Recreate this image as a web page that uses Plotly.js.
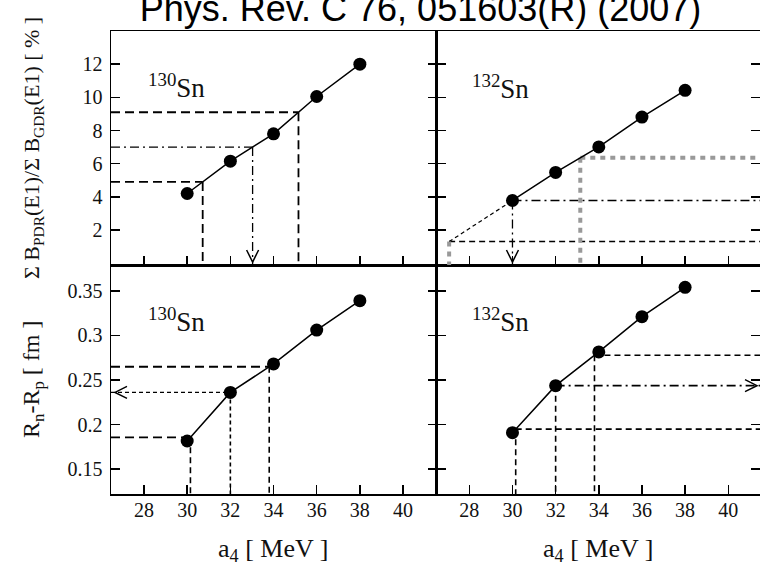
<!DOCTYPE html>
<html>
<head>
<meta charset="utf-8">
<script src="https://cdn.plot.ly/plotly-3.0.1.min.js"></script>
<style>
  html, body { margin: 0; padding: 0; background: #fff; }
  #chart { width: 760px; height: 569px; }
</style>
</head>
<body>
<div id="chart"></div>
<script>
// Symmetry-energy coefficient a4 [MeV] of the model parametrisations
const a4 = [30, 32, 34, 36, 38];

// Pygmy-dipole strength fraction  sum B_PDR(E1) / sum B_GDR(E1)  [%]
const pdr130 = [4.2, 6.15, 7.8, 10.05, 12.0];
const pdr132 = [3.78, 5.47, 7.01, 8.81, 10.42];

// Neutron-skin thickness Rn - Rp [fm]
const skin130 = [0.1815, 0.236, 0.268, 0.306, 0.339];
const skin132 = [0.1908, 0.2436, 0.2815, 0.321, 0.354];

// Constraint levels: strength values carried across to a4 ...
const pdrLevels130 = [4.9, 7.0, 9.1];
const pdrLevels132 = [1.3, 3.78, 6.35];
// ... and a4 values carried across to the skin thickness
const a4Levels130 = [30.15, 32.0, 33.8];
const a4Levels132 = [30.15, 32.0, 33.8];

// Tick labels
const a4Ticks = [28, 30, 32, 34, 36, 38, 40];
const pdrTicks = [2, 4, 6, 8, 10, 12];
const skinTicks = [0.15, 0.2, 0.25, 0.3, 0.35];
const skinTickText = ['0.15', '0.2', '0.25', '0.3', '0.35'];

// Panel labels and axis titles
const nucleusLabels = ['<sup>130</sup>Sn', '<sup>132</sup>Sn'];
const a4Title = 'a<sub>4</sub> [ MeV ]';
const pdrTitle = 'Σ B<sub>PDR</sub>(E1)/Σ B<sub>GDR</sub>(E1) [ % ]';
const skinTitle = 'R<sub>n</sub>-R<sub>p</sub> [ fm ]';
const citation = 'Phys. Rev. C 76, 051603(R) (2007)';

// ---------------------------------------------------------------
const serif = '"Liberation Serif", "Times New Roman", Times, serif';
const sans = '"Liberation Sans", Arial, Helvetica, sans-serif';

const xRangeL = [26.47, 41.55];
const xRangeR = [26.48, 41.47];
const yRangeTop = [-0.11, 14.0];
const yRangeBot = [0.122, 0.379];

// linear crossing / extrapolation along a polyline
function crossX(xs, ys, y) {
  let i = 0;
  while (i < ys.length - 2 && y > ys[i + 1]) i++;
  const t = (y - ys[i]) / (ys[i + 1] - ys[i]);
  return xs[i] + t * (xs[i + 1] - xs[i]);
}
function crossY(xs, ys, x) {
  let i = 0;
  while (i < xs.length - 2 && x > xs[i + 1]) i++;
  const t = (x - xs[i]) / (xs[i + 1] - xs[i]);
  return ys[i] + t * (ys[i + 1] - ys[i]);
}

const BLACK = '#000';
const GREY = '#999';
const DASH_LONG = '9px,5px';
const DASH = '6px,4px';
const DASH_FINE = '4px,3px';
const DASHDOT = '9px,4px,2px,4px';
const GREYDOT = '5px,5px';

function seg(xref, yref, x0, y0, x1, y1, color, width, dash) {
  return { type: 'line', xref, yref, x0, y0, x1, y1, layer: 'below',
           line: { color, width, dash } };
}
function chevron(xref, yref, x, y, dir) {
  const path = {
    down: 'M-6,15L0,3L6,15',
    left: 'M16,6L4,0L16,-6',
    right: 'M-15,6L-3,0L-15,-6'
  }[dir];
  return { type: 'path', xref, yref, xsizemode: 'pixel', ysizemode: 'pixel',
           xanchor: x, yanchor: y, path, line: { color: BLACK, width: 1.5 } };
}

const shapes = [];

// top-left: 130Sn strength -> a4
pdrLevels130.forEach((L, i) => {
  const xc = crossX(a4, pdr130, L);
  const d = i === 1 ? DASHDOT : DASH_LONG;
  const w = i === 1 ? 1.3 : 1.8;
  shapes.push(seg('x3', 'y3', xRangeL[0], L, xc, L, BLACK, w, d));
  shapes.push(seg('x3', 'y3', xc, L, xc, yRangeTop[0], BLACK, w, d));
  if (i === 1) shapes.push(chevron('x3', 'y3', xc, yRangeTop[0], 'down'));
});

// top-right: 132Sn strength -> a4
pdrLevels132.forEach((L, i) => {
  const xc = crossX(a4, pdr132, L);
  if (i === 0) {
    shapes.push(seg('x4', 'y4', xc, L, a4[0], pdr132[0], BLACK, 1.2, DASH_FINE));
    shapes.push(seg('x4', 'y4', xc, L, xRangeR[1], L, BLACK, 1.5, DASH));
    shapes.push(seg('x4', 'y4', xc, L, xc, yRangeTop[0], GREY, 4, GREYDOT));
  } else if (i === 1) {
    shapes.push(seg('x4', 'y4', xc, L, xRangeR[1], L, BLACK, 1.5, DASHDOT));
    shapes.push(seg('x4', 'y4', xc, L, xc, yRangeTop[0], BLACK, 1.3, DASHDOT));
    shapes.push(chevron('x4', 'y4', xc, yRangeTop[0], 'down'));
  } else {
    shapes.push(seg('x4', 'y4', xc, L, xRangeR[1], L, GREY, 4, GREYDOT));
    shapes.push(seg('x4', 'y4', xc, L, xc, yRangeTop[0], GREY, 4, GREYDOT));
  }
});

// bottom-left: 130Sn a4 -> skin
a4Levels130.forEach((A, i) => {
  const yc = crossY(a4, skin130, A);
  const dh = i === 1 ? DASH_FINE : DASH_LONG;
  const dv = i === 1 ? DASH_FINE : DASH;
  shapes.push(seg('x', 'y', xRangeL[0], yc, A, yc, BLACK, i === 1 ? 1.3 : 1.8, dh));
  shapes.push(seg('x', 'y', A, yc, A, yRangeBot[0], BLACK, 1.6, dv));
  if (i === 1) shapes.push(chevron('x', 'y', xRangeL[0], yc, 'left'));
});

// bottom-right: 132Sn a4 -> skin
a4Levels132.forEach((A, i) => {
  const yc = crossY(a4, skin132, A);
  const dh = i === 1 ? DASHDOT : DASH;
  shapes.push(seg('x2', 'y2', A, yc, xRangeR[1], yc, BLACK, 1.6, dh));
  shapes.push(seg('x2', 'y2', A, yc, A, yRangeBot[0], BLACK, 1.6, DASH));
  if (i === 1) shapes.push(chevron('x2', 'y2', xRangeR[1], yc, 'right'));
});

// ---------------------------------------------------------------
function series(y, xa, ya) {
  return { x: a4, y, xaxis: xa, yaxis: ya, type: 'scatter', mode: 'lines+markers',
           line: { color: BLACK, width: 1.5 },
           marker: { color: BLACK, size: 13 }, showlegend: false, hoverinfo: 'x+y' };
}
const data = [
  series(skin130, 'x', 'y'),
  series(skin132, 'x2', 'y2'),
  series(pdr130, 'x3', 'y3'),
  series(pdr132, 'x4', 'y4')
];

const tickFont = { family: serif, size: 20, color: '#111' };
function xAxis(domain, anchor, range, labels) {
  return { domain, anchor, range, tickvals: a4Ticks, ticktext: a4Ticks.map(String),
           showticklabels: labels, ticks: 'inside', ticklen: 9, tickwidth: 1.5,
           tickcolor: BLACK, showline: true, linecolor: BLACK, linewidth: 1.5,
           mirror: true, showgrid: false, zeroline: false, tickfont: tickFont,
           ticklabelstandoff: -3, fixedrange: true };
}
function yAxis(domain, anchor, range, vals, text, labels) {
  return { domain, anchor, range, tickvals: vals, ticktext: text,
           showticklabels: labels, ticks: 'inside', ticklen: 9, tickwidth: 1.5,
           tickcolor: BLACK, showline: true, linecolor: BLACK, linewidth: 1.5,
           mirror: 'ticks', showgrid: false, zeroline: false, tickfont: tickFont,
           ticklabelstandoff: 3, fixedrange: true };
}

const M = { l: 111, r: 0, t: 31, b: 75 };
const W = 760, H = 569;
const fx = px => (px - M.l) / (W - M.l - M.r);
const fy = py => (H - M.b - py) / (H - M.t - M.b);
const splitX = fx(436.5);
const splitY = fy(265);

const pdrText = pdrTicks.map(String);

function label(text, x, y, size, extra) {
  return Object.assign({ text, xref: 'paper', yref: 'paper', x, y, showarrow: false,
                         font: { family: serif, size, color: '#111' } }, extra || {});
}

const annotations = [
  label(nucleusLabels[0], fx(146), fy(86), 27, { xanchor: 'left', yanchor: 'middle' }),
  label(nucleusLabels[1], fx(470), fy(87), 27, { xanchor: 'left', yanchor: 'middle' }),
  label(nucleusLabels[0], fx(146), fy(320), 27, { xanchor: 'left', yanchor: 'middle' }),
  label(nucleusLabels[1], fx(470), fy(320), 27, { xanchor: 'left', yanchor: 'middle' }),
  label(a4Title, fx(273), fy(550), 26, { xanchor: 'center', yanchor: 'middle' }),
  label(a4Title, fx(598), fy(550), 26, { xanchor: 'center', yanchor: 'middle' }),
  label(pdrTitle, fx(33), fy(148), 22, { xanchor: 'center', yanchor: 'middle', textangle: -90 }),
  label(skinTitle, fx(33), fy(380), 24, { xanchor: 'center', yanchor: 'middle', textangle: -90 })
];

const layout = {
  width: W, height: H, margin: M,
  paper_bgcolor: '#fff', plot_bgcolor: '#fff',
  showlegend: false,
  title: { text: citation, font: { family: sans, size: 36, color: '#000' },
           xref: 'container', yref: 'container', x: 420.5 / W, xanchor: 'center',
           y: 1 - 8.4 / H, yanchor: 'middle' },
  xaxis: xAxis([0, splitX], 'y', xRangeL, true),
  yaxis: yAxis([0, splitY], 'x', yRangeBot, skinTicks, skinTickText, true),
  xaxis2: xAxis([splitX, 1], 'y2', xRangeR, true),
  yaxis2: yAxis([0, splitY], 'x2', yRangeBot, skinTicks, skinTickText, false),
  xaxis3: xAxis([0, splitX], 'y3', xRangeL, false),
  yaxis3: yAxis([splitY, 1], 'x3', yRangeTop, pdrTicks, pdrText, true),
  xaxis4: xAxis([splitX, 1], 'y4', xRangeR, false),
  yaxis4: yAxis([splitY, 1], 'x4', yRangeTop, pdrTicks, pdrText, false),
  shapes, annotations
};

Plotly.newPlot('chart', data, layout, { displayModeBar: false, staticPlot: true });
</script>
</body>
</html>
